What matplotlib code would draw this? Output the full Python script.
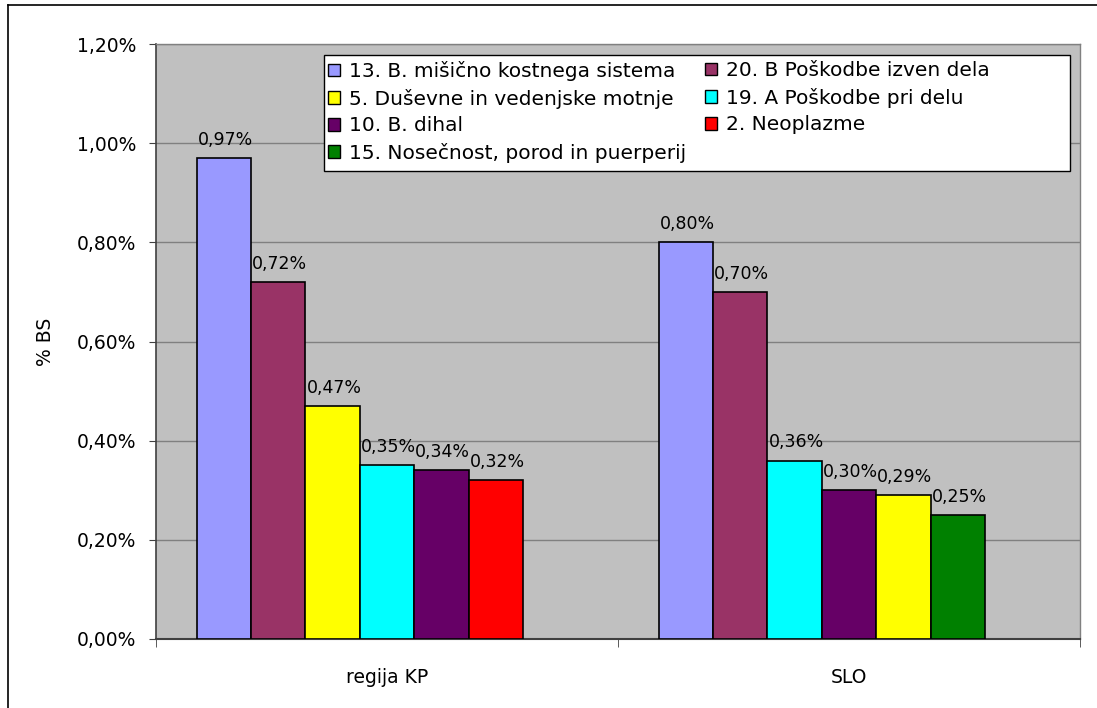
import matplotlib
matplotlib.use("Agg")
import matplotlib.pyplot as plt
from matplotlib.patches import Patch, Rectangle
from matplotlib.lines import Line2D
from matplotlib.ticker import FuncFormatter, FixedLocator

categories = ["regija KP", "SLO"]
series_names = [
    "13. B. mišično kostnega sistema",
    "20. B Poškodbe izven dela",
    "5. Duševne in vedenjske motnje",
    "19. A Poškodbe pri delu",
    "10. B. dihal",
    "2. Neoplazme",
    "15. Nosečnost, porod in puerperij",
]
series_colors = ["#9999FF", "#993366", "#FFFF00", "#00FFFF", "#660066", "#FF0000", "#008000"]

kp_series = ["13. B. mišično kostnega sistema", "20. B Poškodbe izven dela",
             "5. Duševne in vedenjske motnje", "19. A Poškodbe pri delu",
             "10. B. dihal", "2. Neoplazme"]
kp_values = [0.97, 0.72, 0.47, 0.35, 0.34, 0.32]

slo_series = ["13. B. mišično kostnega sistema", "20. B Poškodbe izven dela",
              "19. A Poškodbe pri delu", "10. B. dihal",
              "5. Duševne in vedenjske motnje", "15. Nosečnost, porod in puerperij"]
slo_values = [0.80, 0.70, 0.36, 0.30, 0.29, 0.25]

yticks = [0.0, 0.2, 0.4, 0.6, 0.8, 1.0, 1.2]

plt.rcParams["font.family"] = ["DejaVu Sans"]

W, H = 1097, 708
fig = plt.figure(figsize=(W / 100, H / 100), dpi=100)
fig.patch.set_facecolor("white")

# outer chart frame (left and top edges visible)
fig.add_artist(Line2D([8 / W, 8 / W], [0, 1 - 5 / H], transform=fig.transFigure,
                      color="black", linewidth=1.2))
fig.add_artist(Line2D([8 / W, 1], [1 - 5 / H, 1 - 5 / H], transform=fig.transFigure,
                      color="black", linewidth=1.2))

ax = fig.add_axes([156 / W, 1 - 639 / H, (1080 - 156) / W, (639 - 44) / H])
ax.set_facecolor("#C0C0C0")

color_of = dict(zip(series_names, series_colors))
nslots = 7
gap = 1.5
w = 1.0 / (nslots + gap)

groups = [(kp_series, kp_values), (slo_series, slo_values)]
for ci, (names, vals) in enumerate(groups):
    start = ci - 0.5 + gap * w / 2
    for i, (nm, v) in enumerate(zip(names, vals)):
        x = start + (i + 0.5) * w
        ax.bar(x, v, width=w, color=color_of[nm], edgecolor="black", linewidth=1.2, zorder=3)
        ax.annotate(("%.2f%%" % v).replace(".", ","), (x, v), xytext=(1, 9.5),
                    textcoords="offset points", ha="center", va="baseline",
                    fontsize=12.5, zorder=4)

ax.set_xlim(-0.5, 1.5)
ax.set_ylim(0, 1.2)
ax.yaxis.set_major_locator(FixedLocator(yticks))
ax.yaxis.set_major_formatter(FuncFormatter(lambda v, p: ("%.2f%%" % v).replace(".", ",")))
ax.grid(axis="y", color="#808080", linewidth=1.0, zorder=0)
ax.set_axisbelow(True)

ax.set_xticks([0, 1])
ax.set_xticklabels(categories)
ax.set_xticks([-0.5, 0.5, 1.5], minor=True)
ax.tick_params(axis="x", which="major", length=0, pad=21, labelsize=13.5)
ax.tick_params(axis="x", which="minor", length=6, color="#404040", direction="out")
ax.tick_params(axis="y", length=5, color="#404040", direction="out", labelsize=13.5, pad=9)

for s in ["top", "right"]:
    ax.spines[s].set_color("#808080")
    ax.spines[s].set_linewidth(1.0)
ax.spines["left"].set_color("#404040")
ax.spines["bottom"].set_color("#404040")
ax.spines["left"].set_linewidth(1.2)
ax.spines["bottom"].set_linewidth(1.5)

ax.set_ylabel("% BS", fontsize=13.5)
ax.yaxis.set_label_coords((55 - 156) / (1080 - 156), 0.5)

# legend box
fig.add_artist(Rectangle((324 / W, 1 - 171 / H), (1070 - 324) / W, (171 - 55) / H,
                         transform=fig.transFigure, facecolor="white", edgecolor="black",
                         linewidth=1.0, zorder=2.5))
handles = [Patch(facecolor=c, edgecolor="black", linewidth=1.0) for c in series_colors]
col1 = [0, 2, 4, 6]
col2 = [1, 3, 5]
leg_kw = dict(loc="upper left", frameon=False, fontsize=14.5, handlelength=0.6,
              handleheight=0.6, handletextpad=0.45, labelspacing=0.38, borderpad=0,
              borderaxespad=0)
leg1 = fig.legend([handles[i] for i in col1], [series_names[i] for i in col1],
                  bbox_to_anchor=(328 / W, 1 - 61 / H), **leg_kw)
leg2 = fig.legend([handles[i] for i in col2], [series_names[i] for i in col2],
                  bbox_to_anchor=(705 / W, 1 - 61 / H), **leg_kw)
leg1.set_zorder(3)
leg2.set_zorder(3)

fig.savefig("out.png", dpi=100)
